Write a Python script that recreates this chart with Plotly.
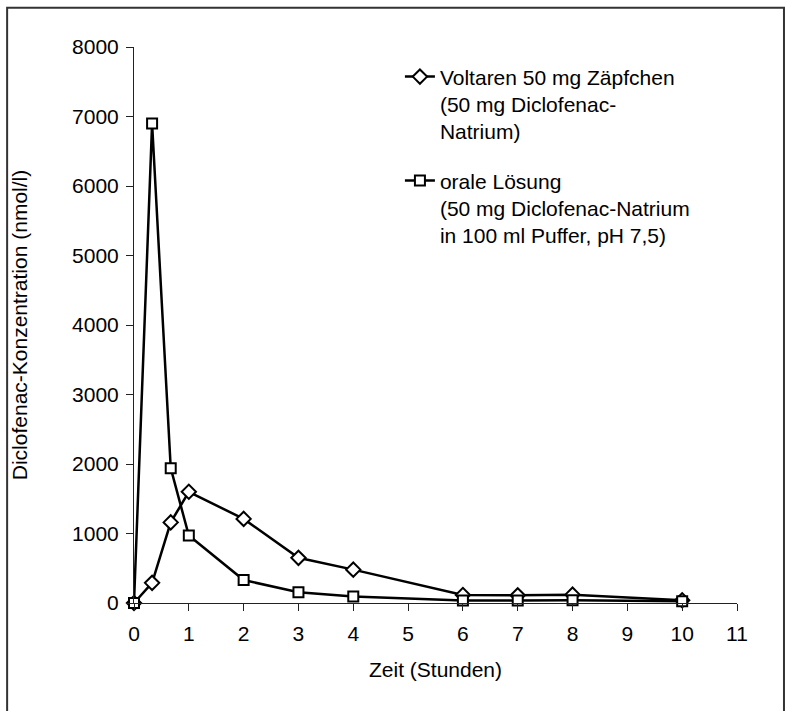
import plotly.graph_objects as go

# Data
time_h = [0, 0.33, 0.67, 1, 2, 3, 4, 6, 7, 8, 10]
voltaren_supp = [0, 290, 1160, 1600, 1210, 650, 480, 115, 110, 120, 40]
oral_solution = [0, 6900, 1940, 970, 330, 155, 95, 35, 35, 40, 25]

name_supp = "Voltaren 50 mg Zäpfchen<br>(50 mg Diclofenac-<br>Natrium)"
name_oral = "orale Lösung<br>(50 mg Diclofenac-Natrium<br>in 100 ml Puffer, pH 7,5)"

x_ticks = list(range(0, 12))
y_ticks = list(range(0, 8001, 1000))

FONT = "Liberation Sans, Arial, sans-serif"
FS = 21
AX = "#222222"

fig = go.Figure()
fig.add_trace(go.Scatter(
    x=time_h, y=voltaren_supp, name=name_supp, mode="lines+markers",
    legendgroup="a",
    line=dict(color="black", width=2.5),
    marker=dict(symbol="diamond", size=11, color="white",
                line=dict(color="black", width=2)),
    cliponaxis=False,
))
fig.add_trace(go.Scatter(
    x=time_h, y=oral_solution, name=name_oral, mode="lines+markers",
    legendgroup="b",
    line=dict(color="black", width=2.5),
    marker=dict(symbol="square", size=10, color="white",
                line=dict(color="black", width=2)),
    cliponaxis=False,
))

common_x = dict(range=[0, 11], tickvals=x_ticks, showgrid=False, zeroline=False)
common_y = dict(range=[0, 8000], tickvals=y_ticks, showgrid=False, zeroline=False)

fig.update_layout(
    width=787, height=711,
    margin=dict(l=133.5, r=50, t=47, b=108),
    paper_bgcolor="white", plot_bgcolor="white",
    font=dict(family=FONT, size=FS, color="black"),
    showlegend=True,
    legend=dict(
        x=0.441, y=0.983, xanchor="left", yanchor="top",
        bgcolor="rgba(0,0,0,0)", font=dict(family=FONT, size=FS, color="black"),
        traceorder="grouped", tracegroupgap=19, valign="top",
    ),
    xaxis=dict(
        **common_x,
        showline=True, linecolor=AX, linewidth=1,
        ticks="outside", ticklen=7, tickwidth=1, tickcolor=AX,
        ticklabelstandoff=5,
        title=dict(text="Zeit (Stunden)", font=dict(size=FS), standoff=18),
    ),
    yaxis=dict(
        **common_y,
        showline=True, linecolor=AX, linewidth=1,
        ticks="outside", ticklen=7, tickwidth=1, tickcolor=AX,
        ticklabelstandoff=3,
        title=dict(text="Diclofenac-Konzentration (nmol/l)", font=dict(size=FS), standoff=38),
    ),
    xaxis2=dict(
        **common_x, overlaying="x", anchor="y", side="bottom",
        showline=False, ticks="inside", ticklen=7, tickwidth=1, tickcolor=AX,
        showticklabels=False,
    ),
    yaxis2=dict(
        **common_y, overlaying="y", anchor="x", side="left",
        showline=False, ticks="inside", ticklen=7, tickwidth=1, tickcolor=AX,
        showticklabels=False,
    ),
    shapes=[dict(
        type="rect", xref="paper", yref="paper",
        x0=-0.2104, x1=1.0779, y0=-0.25, y1=1.0705,
        line=dict(color="#333333", width=2), fillcolor="rgba(0,0,0,0)", layer="below",
    )],
)

fig.write_html("out.html", config={"displayModeBar": False},
               post_script="document.body.style.margin='0';")
